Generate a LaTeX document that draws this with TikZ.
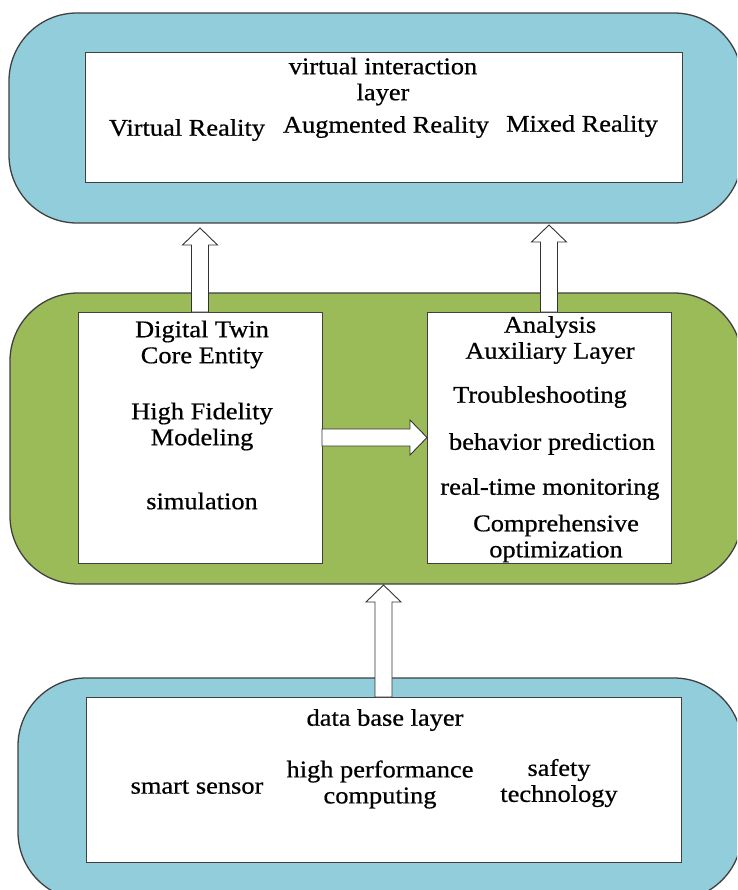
\documentclass[tikz,border=0pt]{standalone}
\usepackage{fontspec}
\setmainfont[FakeStretch=1.1,FakeBold=0.6]{Liberation Serif}
\usetikzlibrary{calc}
\newcommand\blkarrow[2]{%
  \path ($(#2)!17pt!(#1)$) coordinate (hb);
  \draw[barr] ($(#1)!8.5pt!90:(#2)$) -- ($(hb)!8.5pt!90:(#2)$) -- ($(hb)!17.5pt!90:(#2)$) -- (#2)
    -- ($(hb)!17.5pt!-90:(#2)$) -- ($(hb)!8.5pt!-90:(#2)$) -- ($(#1)!8.5pt!-90:(#2)$) -- cycle;}
\begin{document}
\begin{tikzpicture}[x=1pt,y=-1pt,
  layerbox/.style={draw=black!75, line width=1.3pt, rounded corners=68pt, inner sep=0pt, outer sep=0pt},
  innerbox/.style={draw=black!75, line width=1pt, fill=white, inner sep=0pt, outer sep=0pt},
  lbl/.style={font=\fontsize{24}{26}\selectfont, align=center, inner sep=0pt},
  barr/.style={draw=black!80, line width=0.9pt, fill=white, line join=miter}]
\useasboundingbox (0,0) rectangle (737,890);
\clip (0,0) rectangle (737,890);
\fill[white] (0,0) rectangle (737,890);
\definecolor{lblue}{HTML}{92CDDC}
\definecolor{lgreen}{HTML}{9BBB59}
% outer layers
\node[layerbox, fill=lblue, minimum width=733pt, minimum height=210pt] (vtop) at (375.5,118) {};
\node[layerbox, fill=lgreen, minimum width=732pt, minimum height=291pt] (green) at (376,438.5) {};
\node[layerbox, fill=lblue, minimum width=724pt, minimum height=222pt] (bot) at (380,789) {};
% inner boxes
\node[innerbox, minimum width=597pt, minimum height=130pt] (vint) at (383.5,118) {};
\node[innerbox, minimum width=244pt, minimum height=251pt] (core) at (200,437.5) {};
\node[innerbox, minimum width=244pt, minimum height=251pt] (ana) at (549,437.5) {};
\node[innerbox, minimum width=595pt, minimum height=165pt] (db) at (383.5,779.5) {};
% arrows
\coordinate (a1t) at ([yshift=-5pt]core.north |- vtop.south);
\coordinate (a2t) at ([yshift=-2pt]ana.north |- vtop.south);
\coordinate (a4t) at ([yshift=-1pt]db.north |- green.south);
\blkarrow{core.north}{a1t}
\blkarrow{ana.north}{a2t}
\blkarrow{core.east}{ana.west}
\blkarrow{db.north}{a4t}
% texts
\node[lbl] (t1) at (383,81.5) {virtual interaction\\layer};
\node[lbl] (t2) at (187,130) {Virtual Reality};
\node[lbl] (t3) at (386,127) {Augmented Reality};
\node[lbl] (t4) at (582,126) {Mixed Reality};
\node[lbl] (c1) at (202,344.5) {Digital Twin\\Core Entity};
\node[lbl] (c2) at (202,426.5) {High Fidelity\\Modeling};
\node[lbl] (c3) at (202,501) {simulation};
\node[lbl] (n1) at (550,340) {Analysis\\Auxiliary Layer};
\node[lbl] (n2) at (540,397) {Troubleshooting};
\node[lbl] (n3) at (552,444) {behavior prediction};
\node[lbl] (n4) at (550,489) {real-time monitoring};
\node[lbl] (n5) at (556,538.5) {Comprehensive\\optimization};
\node[lbl] (d1) at (385,720) {data base layer};
\node[lbl] (d2) at (197,787) {smart sensor};
\node[lbl] (d3) at (380,784.5) {high performance\\computing};
\node[lbl] (d4) at (559,783) {safety\\technology};
\end{tikzpicture}
\end{document}
